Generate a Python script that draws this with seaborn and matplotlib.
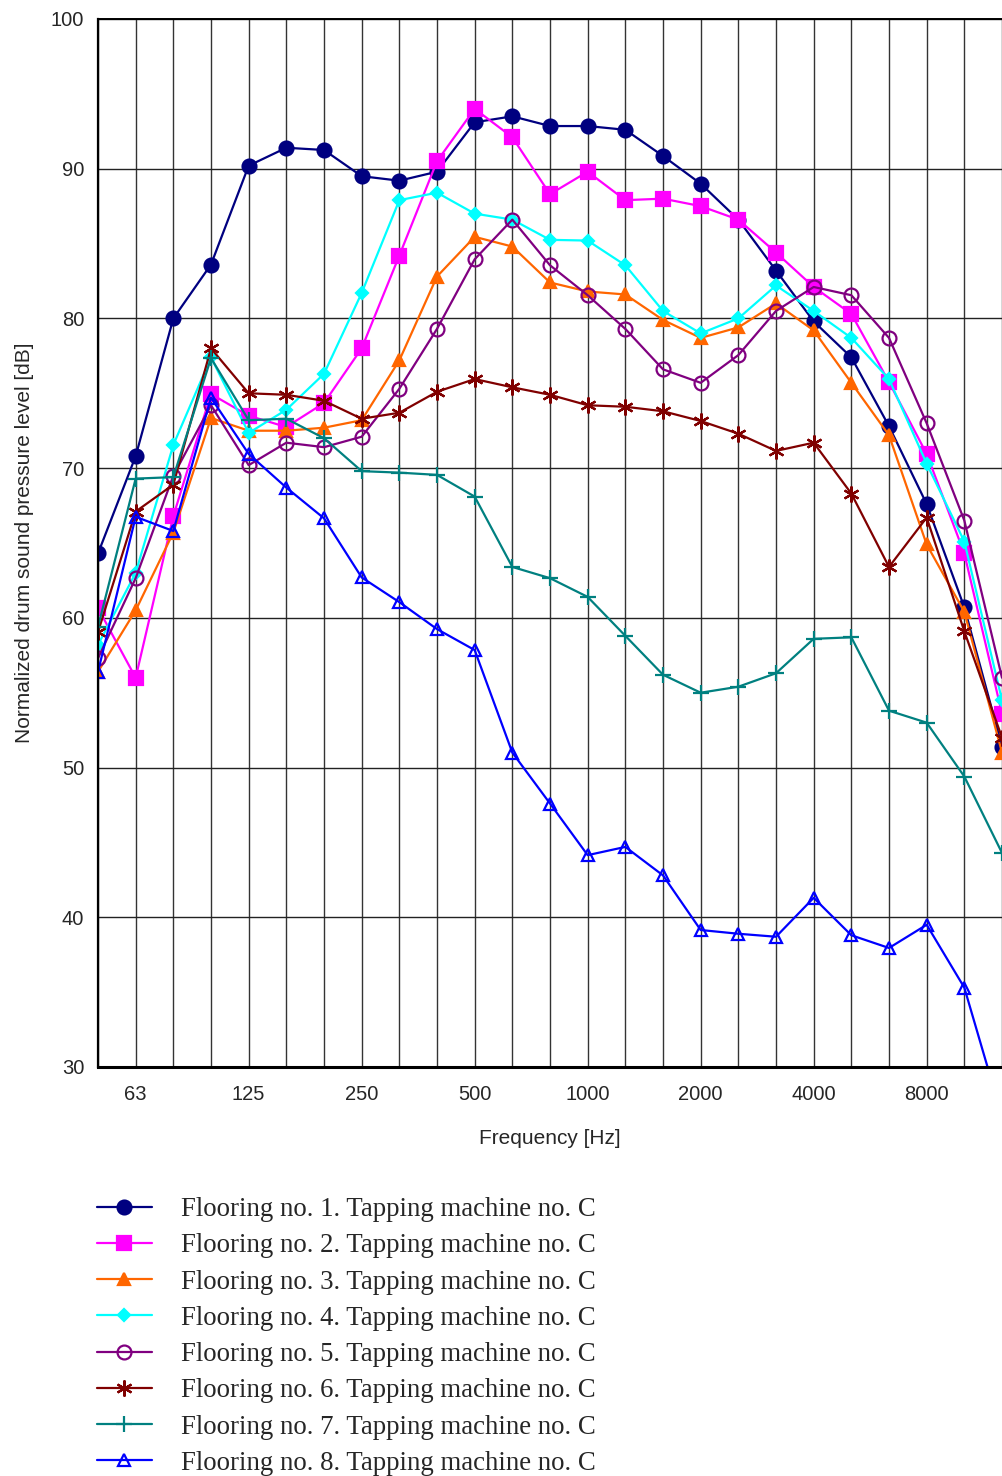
import numpy as np
import pandas as pd
import matplotlib
matplotlib.use("Agg")
import matplotlib.pyplot as plt
import seaborn as sns

freqs = [50, 63, 80, 100, 125, 160, 200, 250, 315, 400, 500, 630, 800, 1000,
         1250, 1600, 2000, 2500, 3150, 4000, 5000, 6300, 8000, 10000, 12500]
tick_labels = ["63", "125", "250", "500", "1000", "2000", "4000", "8000"]
tick_freqs = [63, 125, 250, 500, 1000, 2000, 4000, 8000]

s1 = [64.3, 70.8, 80.0, 83.6, 90.2, 91.4, 91.25, 89.5, 89.2, 89.8, 93.1, 93.5, 92.85,
      92.85, 92.6, 90.85, 89.0, 86.6, 83.2, 79.8, 77.4, 72.8, 67.6, 60.7, 51.4]
s2 = [60.65, 56.0, 66.8, 74.95, 73.5, 72.75, 74.35, 78.0, 84.2, 90.5, 94.0, 92.1, 88.3,
      89.8, 87.9, 88.0, 87.5, 86.6, 84.4, 82.1, 80.3, 75.75, 70.95, 64.3, 53.6]
s3 = [56.4, 60.5, 65.7, 73.35, 72.5, 72.5, 72.7, 73.2, 77.2, 82.8, 85.45, 84.8, 82.4,
      81.8, 81.6, 79.9, 78.7, 79.4, 81.0, 79.2, 75.7, 72.2, 64.9, 60.4, 51.0]
s4 = [58.2, 63.0, 71.55, 77.4, 72.35, 73.9, 76.3, 81.7, 87.9, 88.4, 87.0, 86.6, 85.25,
      85.2, 83.55, 80.5, 79.0, 80.0, 82.2, 80.5, 78.7, 75.95, 70.3, 65.1, 54.5]
s5 = [57.3, 62.65, 69.5, 74.2, 70.2, 71.7, 71.4, 72.1, 75.3, 79.3, 83.95, 86.6, 83.55,
      81.55, 79.3, 76.6, 75.7, 77.55, 80.5, 82.1, 81.55, 78.7, 73.0, 66.5, 56.0]
s6 = [59.05, 67.1, 68.9, 78.0, 75.0, 74.9, 74.5, 73.3, 73.7, 75.1, 75.95, 75.4, 74.9,
      74.2, 74.1, 73.8, 73.15, 72.3, 71.15, 71.7, 68.3, 63.4, 66.7, 59.1, 52.0]
s7 = [59.4, 69.3, 69.4, 77.35, 73.2, 73.3, 72.0, 69.8, 69.7, 69.55, 68.1, 63.4, 62.65,
      61.4, 58.8, 56.2, 55.0, 55.4, 56.3, 58.6, 58.7, 53.8, 53.0, 49.4, 44.3]
s8 = [56.4, 66.75, 65.8, 74.7, 70.95, 68.7, 66.65, 62.7, 61.05, 59.25, 57.85, 51.0, 47.6,
      44.15, 44.7, 42.8, 39.15, 38.9, 38.7, 41.3, 38.8, 37.95, 39.5, 35.3, 26.7]

series = [s1, s2, s3, s4, s5, s6, s7, s8]
names = [f"Flooring no. {k}. Tapping machine no. C" for k in range(1, 9)]

colors = ["#000080", "#FF00FF", "#FF6600", "#00FFFF", "#800080", "#800000", "#008080", "#0000FF"]
markers = ["o", "s", "^", "D", "o", (6, 2, 0), "+", "^"]
msizes = [10, 10, 8.5, 6, 10, 11.5, 12, 9]
mfcs = [None, None, None, None, "none", None, None, "none"]

sns.set_theme(style="white")
plt.rcParams["font.family"] = ["Liberation Sans", "DejaVu Sans"]

fig = plt.figure(figsize=(10.02, 14.76), dpi=100)
ax = fig.add_axes([98 / 1002, 1 - 1067 / 1476, 1 - 98 / 1002, (1067 - 19) / 1476])

pos = np.arange(len(freqs))
for vals, name, c, m, ms, mfc in zip(series, names, colors, markers, msizes, mfcs):
    df = pd.DataFrame({"pos": pos, "val": vals})
    kw = dict(color=c, marker=m, markersize=ms, linewidth=1.6, markeredgecolor=c,
              markeredgewidth=1.6, label=name)
    kw["markerfacecolor"] = mfc if mfc is not None else c
    sns.lineplot(data=df, x="pos", y="val", ax=ax, **kw)

ax.set_xlim(0, len(freqs) - 1)
ax.set_ylim(30, 100)
ax.set_yticks(np.arange(30, 101, 10))
ax.set_xticks(pos, minor=True)
ax.set_xticks([freqs.index(f) for f in tick_freqs])
ax.set_xticklabels(tick_labels)
ax.tick_params(axis="both", which="both", length=0, labelsize=14.5, pad=10)
ax.tick_params(axis="x", pad=13)
ax.grid(True, which="major", axis="y", color="#222222", linewidth=1.0)
ax.grid(True, which="both", axis="x", color="#333333", linewidth=1.0)
ax.set_axisbelow(True)
for side in ["left", "bottom", "top"]:
    ax.spines[side].set_visible(True)
    ax.spines[side].set_color("black")
ax.spines["left"].set_linewidth(1.6)
ax.spines["bottom"].set_linewidth(2.2)
ax.spines["top"].set_linewidth(1.4)
ax.spines["right"].set_visible(False)

ax.set_xlabel("Frequency [Hz]", fontsize=15, labelpad=18)
ax.set_ylabel("Normalized drum sound pressure level [dB]", fontsize=15, labelpad=12)

leg = ax.legend(loc="upper left", bbox_to_anchor=(97 / 1002, 1 - 1197 / 1476),
                bbox_transform=fig.transFigure, frameon=False,
                prop={"family": "Liberation Serif", "size": 19.3},
                handlelength=2.05, handletextpad=1.1, labelspacing=0.42,
                borderaxespad=0, borderpad=0)

fig.savefig("out.png", dpi=100)
